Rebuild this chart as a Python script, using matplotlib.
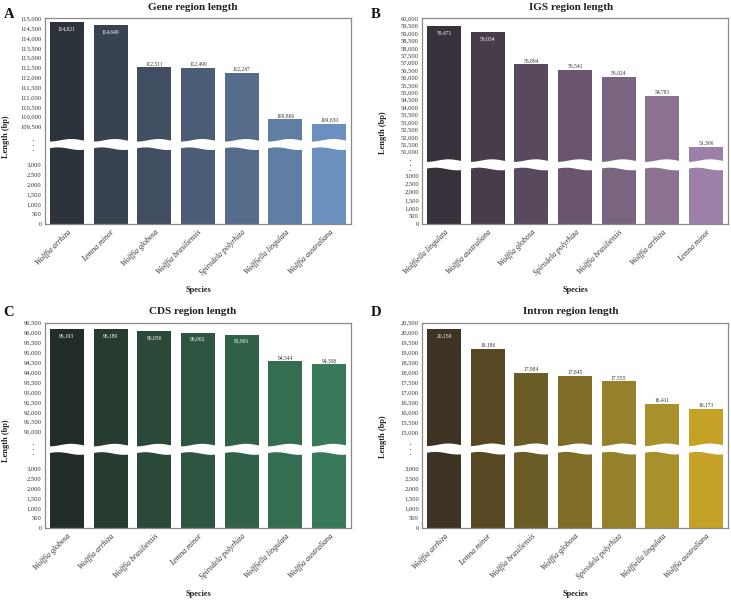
import numpy as np
import matplotlib
matplotlib.use("Agg")
import matplotlib.pyplot as plt
from matplotlib.patches import Polygon

plt.rcParams['font.family'] = ['Liberation Serif', 'DejaVu Serif']

# ---------------- data ----------------
gene_species = ["Wolffia arrhiza", "Lemna minor", "Wolffia globosa", "Wolffia brasiliensis",
                "Spirodela polyrhiza", "Wolffiella lingulata", "Wolffia australiana"]
gene_values = [114821, 114649, 112511, 112490, 112247, 109866, 109650]

igs_species = ["Wolffiella lingulata", "Wolffia australiana", "Wolffia globosa", "Spirodela polyrhiza",
               "Wolffia brasiliensis", "Wolffia arrhiza", "Lemna minor"]
igs_values = [59471, 59054, 56894, 56541, 56024, 54781, 51306]

cds_species = ["Wolffia globosa", "Wolffia arrhiza", "Wolffia brasiliensis", "Lemna minor",
               "Spirodela polyrhiza", "Wolffiella lingulata", "Wolffia australiana"]
cds_values = [96193, 96189, 96056, 96002, 95901, 94544, 94398]

intron_species = ["Wolffia arrhiza", "Lemna minor", "Wolffia brasiliensis", "Wolffia globosa",
                  "Spirodela polyrhiza", "Wolffiella lingulata", "Wolffia australiana"]
intron_values = [20159, 19186, 17984, 17845, 17555, 16411, 16173]

lower_ticks = [0, 500, 1000, 1500, 2000, 2500, 3000]
gene_upper_ticks = list(range(109500, 115001, 500))
igs_upper_ticks = list(range(51000, 60001, 500))
cds_upper_ticks = list(range(91000, 96501, 500))
intron_upper_ticks = list(range(15000, 20501, 500))

gene_colors = ["#2d333b", "#39424f", "#414d61", "#4b5c76", "#566c8b", "#5f7ea4", "#6b8fbf"]
igs_colors = ["#36313a", "#463c4a", "#58495c", "#69566e", "#79657f", "#8a7290", "#9d80a7"]
cds_colors = ["#232d28", "#263c31", "#2a4938", "#2d5541", "#316149", "#346d51", "#377958"]
intron_colors = ["#3c3322", "#574823", "#6b5b25", "#7f6c27", "#958129", "#a8902a", "#c5a126"]

W, H = 731, 601
fig = plt.figure(figsize=(W / 100, H / 100), dpi=100)

panels = [
    dict(letter="A", title="Gene region length", species=gene_species, values=gene_values,
         colors=gene_colors, upper=gene_upper_ticks,
         box=(45, 18.3, 351, 224), lo=(3000, 60.0), up=(109500, 97.3, 115000, 205.7), band=79.5,
         ylabel_y=137, title_x=193, title_y=7, letter_xy=(9, 14)),
    dict(letter="B", title="IGS region length", species=igs_species, values=igs_values,
         colors=igs_colors, upper=igs_upper_ticks,
         box=(422.3, 18.3, 727.7, 224.3), lo=(3000, 48.8), up=(51000, 72.6, 60000, 206.0), band=59.5,
         ylabel_y=133, title_x=571, title_y=7, letter_xy=(376, 14)),
    dict(letter="C", title="CDS region length", species=cds_species, values=cds_values,
         colors=cds_colors, upper=cds_upper_ticks,
         box=(45, 322.7, 351, 528.3), lo=(3000, 60.3), up=(91000, 96.6, 96500, 205.6), band=79.0,
         ylabel_y=441, title_x=193, title_y=311, letter_xy=(9, 313)),
    dict(letter="D", title="Intron region length", species=intron_species, values=intron_values,
         colors=intron_colors, upper=intron_upper_ticks,
         box=(422.3, 322.7, 727.7, 528.3), lo=(3000, 60.3), up=(15000, 96.0, 20500, 205.6), band=79.3,
         ylabel_y=437, title_x=571, title_y=311, letter_xy=(376, 313)),
]


def make_scale(lo, up, band):
    lo_slope = lo[1] / lo[0]
    uv0, up0, uv1, up1 = up
    up_slope = (up1 - up0) / (uv1 - uv0)
    pb_lo, pb_hi = band - 0.5, band + 0.5
    vb = pb_lo / lo_slope
    ub = uv0 - (up0 - pb_hi) / up_slope
    big = 1e8
    xs = np.array([-big, vb, ub, big])
    ps = np.array([-big * lo_slope, pb_lo, pb_hi, up0 + (big - uv0) * up_slope])

    def fwd(v):
        return np.interp(np.asarray(v, dtype=float), xs, ps)

    def inv(p):
        return np.interp(np.asarray(p, dtype=float), ps, xs)
    return fwd, inv


for P in panels:
    l, t, r, b = P["box"]
    ax = fig.add_axes([l / W, 1 - b / H, (r - l) / W, (b - t) / H])
    fwd, inv = make_scale(P["lo"], P["up"], P["band"])
    ax.set_yscale('function', functions=(fwd, inv))
    ymax = P["upper"][-1]
    ax.set_ylim(0, ymax)
    n = len(P["values"])
    x = np.arange(n)
    ax.bar(x, P["values"], width=0.78, color=P["colors"], zorder=1)
    ax.set_xlim(-0.5, n - 0.5)

    # wavy white break band
    hpx = b - t
    xx = np.linspace(-0.5, n - 0.5, 400)
    c = P["band"] / hpx
    h = 4.2 / hpx
    a = 1.3 / hpx
    top = c + h + a * np.sin(2 * np.pi * (xx + 0.15))
    bot = c - h + a * np.sin(2 * np.pi * (xx + 0.45))
    verts = np.column_stack([np.concatenate([xx, xx[::-1]]), np.concatenate([top, bot[::-1]])])
    ax.add_patch(Polygon(verts, closed=True, facecolor='white', edgecolor='none',
                         transform=ax.get_xaxis_transform(), zorder=2))

    # break dots on the axis
    xd = -12 / (r - l)
    ax.plot([xd] * 3, [c - 5 / hpx, c, c + 5 / hpx], transform=ax.transAxes, ls='none',
            marker='o', ms=0.9, mec='none', mfc='#777777', clip_on=False)

    # value labels
    for i, v in enumerate(P["values"]):
        txt = f"{v:,}"
        if fwd(ymax) - fwd(v) < 20:
            ax.annotate(txt, (i, v), xytext=(0, -3), textcoords='offset points', ha='center',
                        va='top', fontsize=4, color='white', zorder=4)
        else:
            ax.annotate(txt, (i, v), xytext=(0, 1), textcoords='offset points', ha='center',
                        va='bottom', fontsize=4, color='#333333', zorder=4)

    ticks = lower_ticks + P["upper"]
    ax.set_yticks(ticks)
    ax.set_yticklabels([f"{v:,}" for v in ticks])
    ax.yaxis.set_minor_locator(matplotlib.ticker.NullLocator())
    ax.tick_params(axis='y', length=0, pad=2.5, labelsize=4.7, labelcolor='#333333')
    ax.set_xticks(x)
    ax.set_xticklabels(P["species"], rotation=45, ha='right', rotation_mode='anchor',
                       fontstyle='italic', fontsize=5.6, color='#333333')
    ax.tick_params(axis='x', length=0, pad=3)
    for s in ax.spines.values():
        s.set_color('#8a8a8a')
        s.set_linewidth(0.9)

    fig.text((r + l) / 2 / W, 1 - (b + 66) / H, "Species", ha='center', va='center',
             fontsize=6, fontweight='bold', color='#222222')
    fig.text((l - 39) / W, 1 - P["ylabel_y"] / H, "Length (bp)", rotation=90, ha='center',
             va='center', fontsize=6, fontweight='bold', color='#222222')
    fig.text(P["title_x"] / W, 1 - P["title_y"] / H, P["title"], ha='center', va='center',
             fontsize=8, fontweight='bold', color='#222222')
    fig.text(P["letter_xy"][0] / W, 1 - P["letter_xy"][1] / H, P["letter"], ha='center',
             va='center', fontsize=10.5, fontweight='bold', color='#111111')

fig.savefig("out.png", dpi=100, facecolor='white')
